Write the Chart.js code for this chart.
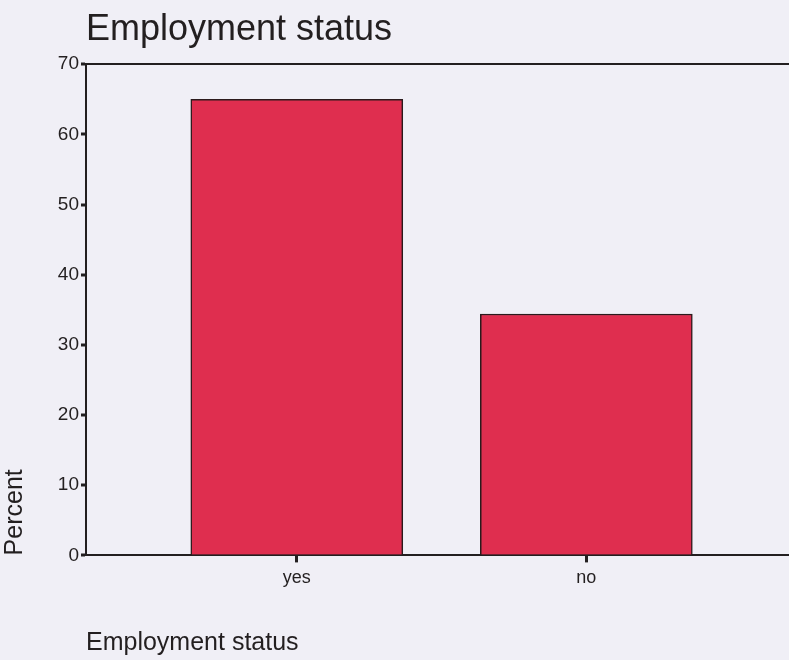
<!DOCTYPE html>
<html>
<head>
<meta charset="utf-8">
<script src="https://cdn.jsdelivr.net/npm/chart.js@4/dist/chart.umd.min.js"></script>
<style>
  html, body { margin: 0; padding: 0; background: #f0eff6; }
  #wrap { width: 789px; height: 660px; }
</style>
</head>
<body>
<div id="wrap"><canvas id="chart" width="789" height="660"></canvas></div>
<script>
const categories = ['yes', 'no'];
const percents = [65.0, 34.4];
const yTicks = [0, 10, 20, 30, 40, 50, 60, 70];

const INK = '#231f20';
const FONT = "'Liberation Sans', Arial, sans-serif";

Chart.defaults.font.family = FONT;
Chart.defaults.color = INK;

const ctx = document.getElementById('chart').getContext('2d');

new Chart(ctx, {
  type: 'bar',
  data: {
    datasets: [{
      label: 'Percent',
      data: categories.map((c, i) => ({ x: i, y: percents[i] })),
      backgroundColor: '#df2e4f',
      borderColor: '#2b1a1c',
      borderWidth: 1.5,
      barThickness: 212,
    }],
  },
  options: {
    responsive: false,
    animation: false,
    layout: { padding: { left: 0, right: 0, top: 0, bottom: 0 } },
    plugins: {
      legend: { display: false },
      tooltip: { enabled: false },
      title: {
        display: true,
        text: 'Employment status',
        align: 'start',
        fullSize: false,
        color: INK,
        font: { size: 36, weight: 'normal' },
        padding: { top: 8, bottom: 13 },
      },
    },
    scales: {
      x: {
        type: 'linear',
        offset: false,
        min: -0.728,
        max: 1.7,
        afterBuildTicks: (scale) => {
          scale.ticks = categories.map((c, i) => ({ value: i }));
        },
        ticks: {
          callback: (v) => categories[v],
          font: { size: 18 },
          padding: 5,
          maxRotation: 0,
        },
        grid: {
          offset: false,
          drawOnChartArea: false,
          drawTicks: true,
          tickLength: 7,
          tickWidth: 3,
          tickColor: INK,
        },
        border: { display: true, color: INK, width: 2 },
        title: {
          display: true,
          text: 'Employment status',
          align: 'start',
          font: { size: 25 },
          padding: { top: 34, bottom: 2 },
        },
      },
      y: {
        min: 0,
        max: 70,
        afterBuildTicks: (scale) => {
          scale.ticks = yTicks.map(v => ({ value: v }));
        },
        afterFit: (scale) => { scale.width = 86; },
        ticks: {
          font: { size: 19 },
          padding: 2,
        },
        grid: {
          color: (c) => (c.tick && c.tick.value === 70 ? INK : 'transparent'),
          lineWidth: 2,
          drawTicks: true,
          tickLength: 5,
          tickWidth: 3,
          tickColor: INK,
        },
        border: { display: true, color: INK, width: 2 },
        title: {
          display: true,
          text: 'Percent',
          align: 'start',
          font: { size: 25 },
          padding: { top: 0, bottom: 0 },
        },
      },
    },
  },
});
</script>
</body>
</html>
